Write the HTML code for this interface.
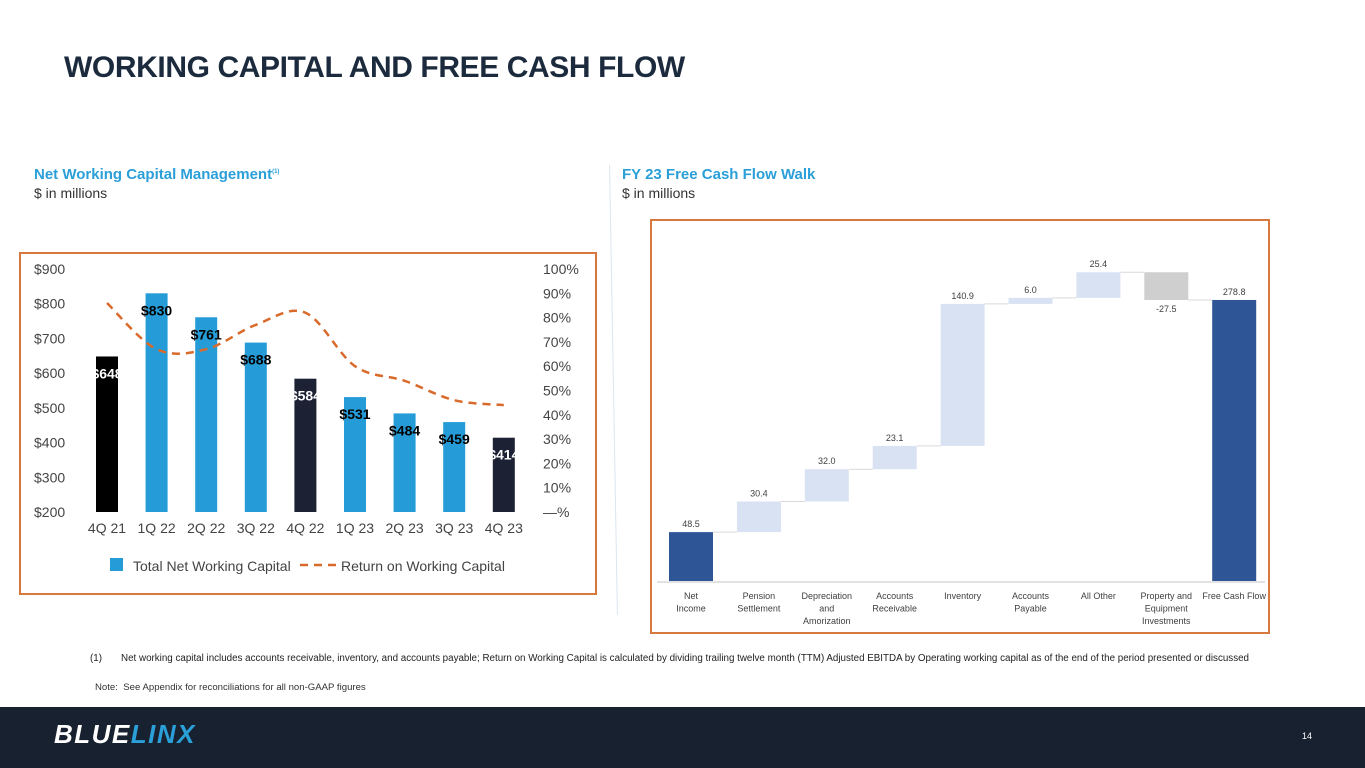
<!DOCTYPE html>
<html><head><meta charset="utf-8"><style>
body{margin:0;width:1365px;height:768px;position:relative;background:#fff;font-family:"Liberation Sans",sans-serif;overflow:hidden}
.abs{position:absolute}
</style></head><body>
<div class="abs" style="left:64px;top:51px;font-size:30px;font-weight:bold;color:#1b2a3c;letter-spacing:-0.4px">WORKING CAPITAL AND FREE CASH FLOW</div>
<div class="abs" style="left:34px;top:166px;font-size:15px;font-weight:bold;color:#2a9fd8">Net Working Capital Management<sup style="font-size:6px">(1)</sup></div>
<div class="abs" style="left:34px;top:185px;font-size:14px;color:#333">$ in millions</div>
<div class="abs" style="left:622px;top:166px;font-size:15px;font-weight:bold;color:#2a9fd8">FY 23 Free Cash Flow Walk</div>
<div class="abs" style="left:622px;top:185px;font-size:14px;color:#333">$ in millions</div>
<div class="abs" style="left:613px;top:165px;width:1px;height:450px;background:#dbe6f0;transform:rotate(-1deg)"></div>

<svg class="abs" style="left:0;top:0" width="1365" height="700">
<rect x="20" y="253" width="576" height="341" fill="none" stroke="#d6793f" stroke-width="2"/>
<rect x="651" y="220" width="618" height="413" fill="none" stroke="#d6793f" stroke-width="2"/>
<g id="left"></g><g id="right"></g>
</svg>

<div class="abs" style="left:90px;top:653px;font-size:9.8px;color:#222;white-space:nowrap">(1)&nbsp;&nbsp;&nbsp;&nbsp;&nbsp;&nbsp;&nbsp;Net working capital includes accounts receivable, inventory, and accounts payable; Return on Working Capital is calculated by dividing trailing twelve month (TTM) Adjusted EBITDA by Operating working capital as of the end of the period presented or discussed</div>
<div class="abs" style="left:95px;top:682px;font-size:9.6px;color:#333">Note:&nbsp; See Appendix for reconciliations for all non-GAAP figures</div>
<div class="abs" style="left:0;top:707px;width:1365px;height:61px;background:#18212f"></div>
<div class="abs" style="left:54px;top:719px;font-size:26px;font-weight:bold;font-style:italic;letter-spacing:1.5px;color:#fff">BLUE<span style="color:#2a9fd8">LINX</span></div>
<div class="abs" style="left:1302px;top:731px;font-size:9px;color:#fff">14</div>

<script>
const NS="http://www.w3.org/2000/svg";
function mk(p,t,a,txt){const e=document.createElementNS(NS,t);for(const k in a)e.setAttribute(k,a[k]);if(txt!==undefined)e.textContent=txt;p.appendChild(e);return e;}
const quarters=["4Q 21","1Q 22","2Q 22","3Q 22","4Q 22","1Q 23","2Q 23","3Q 23","4Q 23"];
const nwc=[648,830,761,688,584,531,484,459,414];
const rowc=[86,67,67,77,82,60,54,46,44];
const barKinds=["k","b","b","b","d","b","b","b","d"];
const leftTicks=[200,300,400,500,600,700,800,900];
const rightTicks=[0,10,20,30,40,50,60,70,80,90,100];
const L=document.getElementById("left");
const yL=v=>512-(v-200)*243/700;
const yR=v=>512-v*2.43;
const xL=i=>107+i*49.6;
const cols={k:"#000",b:"#259cd8",d:"#1c2133"};
leftTicks.forEach(t=>{const e=mk(L,"text",{x:34,y:yL(t)+5,"font-size":14,fill:"#444"},"$"+t);

});
rightTicks.forEach(t=>{const e=mk(L,"text",{x:543,y:yR(t)+5,"font-size":14,fill:"#444"},t===0?"—%":t+"%");

});
nwc.forEach((v,i)=>{const x=xL(i);
const r=mk(L,"rect",{x:x-11,y:yL(v),width:22,height:512-yL(v),fill:cols[barKinds[i]]});


const lab=mk(L,"text",{x:x,y:yL(v)+22,"font-size":14,"font-weight":"bold","text-anchor":"middle",fill:barKinds[i]==="b"?"#000":"#fff"},"$"+v);


const q=mk(L,"text",{x:x,y:533,"font-size":14,"text-anchor":"middle",fill:"#444"},quarters[i]);

});
const pts=rowc.map((v,i)=>[xL(i),yR(v)]);
let d="M"+pts[0][0]+","+pts[0][1];
for(let i=0;i<pts.length-1;i++){const p0=pts[Math.max(0,i-1)],p1=pts[i],p2=pts[i+1],p3=pts[Math.min(pts.length-1,i+2)];
const c1=[p1[0]+(p2[0]-p0[0])/6,p1[1]+(p2[1]-p0[1])/6],c2=[p2[0]-(p3[0]-p1[0])/6,p2[1]-(p3[1]-p1[1])/6];
d+=` C${c1[0]},${c1[1]} ${c2[0]},${c2[1]} ${p2[0]},${p2[1]}`;}
const ln=mk(L,"path",{d:d,fill:"none",stroke:"#d96a2b","stroke-width":2.5,"stroke-dasharray":"8,6"});


const lg1=mk(L,"rect",{x:110,y:558,width:13,height:13,fill:"#259cd8"});


const lt1=mk(L,"text",{x:133,y:571,"font-size":14,fill:"#444"},"Total Net Working Capital");


const lg2=mk(L,"line",{x1:300,y1:565,x2:336,y2:565,stroke:"#d96a2b","stroke-width":2.5,"stroke-dasharray":"8,6"});


const lt2=mk(L,"text",{x:341,y:571,"font-size":14,fill:"#444"},"Return on Working Capital");



const steps=["Net|Income","Pension|Settlement","Depreciation|and|Amorization","Accounts|Receivable","Inventory","Accounts|Payable","All Other","Property and|Equipment|Investments","Free Cash Flow"];
const deltas=[48.5,30.4,32.0,23.1,140.9,6.0,25.4,-27.5,278.8];
const stepKinds=["total","up","up","up","up","up","up","down","total"];
const R=document.getElementById("right");
const base=581,sc=1.008;
const yW=v=>base-v*sc;
const xW=i=>691+i*67.9;
mk(R,"line",{x1:657,y1:base+1,x2:1265,y2:base+1,stroke:"#d9d9d9","stroke-width":1.5});
let cum=0;
deltas.forEach((v,i)=>{let lo,hi;
if(stepKinds[i]==="total"){lo=0;hi=v;cum=v;}else{lo=Math.min(cum,cum+v);hi=Math.max(cum,cum+v);cum+=v;}
const x=xW(i);
const fill=stepKinds[i]==="total"?"#2e5596":stepKinds[i]==="down"?"#cfcfcf":"#d9e2f3";
const r=mk(R,"rect",{x:x-22,y:yW(hi),width:44,height:Math.max(1,(hi-lo)*sc),fill:fill});


if(i<deltas.length-1){const c=mk(R,"line",{x1:x+22,y1:yW(cum),x2:xW(i+1)-22,y2:yW(cum),stroke:"#d9d9d9","stroke-width":1});

}
const ly=v<0?yW(lo)+12:yW(hi)-5;
const t=mk(R,"text",{x:x,y:ly,"font-size":9,"text-anchor":"middle",fill:"#404040"},v.toFixed(1));


steps[i].split("|").forEach((s,j)=>{const e=mk(R,"text",{x:x,y:599+j*12.5,"font-size":9,"text-anchor":"middle",fill:"#404040"},s);

});
});
</script>
</body></html>
